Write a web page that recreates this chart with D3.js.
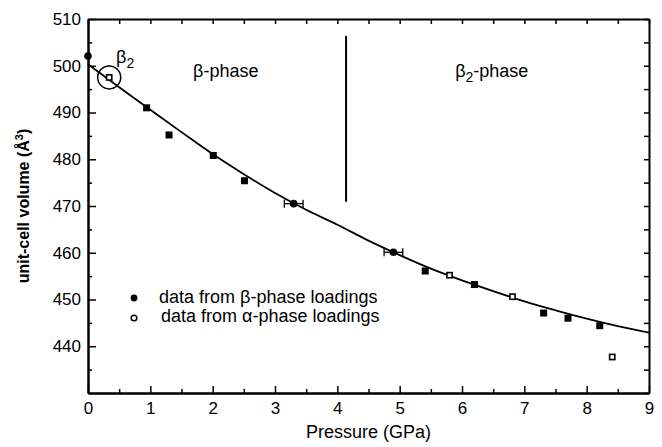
<!DOCTYPE html>
<html>
<head>
<meta charset="utf-8">
<script src="https://cdn.jsdelivr.net/npm/d3@7"></script>
<style>
  body { margin: 0; background: #fff; }
  svg { display: block; font-family: Arial, "Liberation Sans", Helvetica, sans-serif; }
</style>
</head>
<body>
<script>
// data
const sqP = [0.94, 1.30, 2.01, 2.51, 5.41, 6.20, 7.31, 7.70, 8.21];
const sqV = [491.0, 485.2, 480.8, 475.4, 456.1, 453.2, 447.1, 446.0, 444.4];
const dotP = [0, 3.30, 4.90];
const dotV = [502.1, 470.5, 460.1];
const dotErr = [0, 0.15, 0.15];
const openP = [0.34, 5.80, 6.81, 8.41];
const openV = [497.5, 455.2, 450.6, 437.7];
// fitted curve, read every 0.5 GPa
const fitP = [0, 0.5, 1, 1.5, 2, 2.5, 3, 3.5, 4, 4.5, 5, 5.5, 6, 6.5, 7, 7.5, 8, 8.5, 9];
const fitV = [500.3, 495.4, 490.6, 485.8, 481.1, 476.8, 472.8, 469.2, 466.0, 462.6, 459.5, 456.6, 454.1, 451.8, 449.6, 447.7, 445.9, 444.3, 442.9];
const xTicks = [0, 1, 2, 3, 4, 5, 6, 7, 8, 9];
const yTicks = [440, 450, 460, 470, 480, 490, 500, 510];

const width = 662, height = 447;
const margin = { top: 19, right: 13, bottom: 54, left: 88 };

const svg = d3.select('body').append('svg')
    .attr('width', width)
    .attr('height', height);

const x = d3.scaleLinear().domain([0, 9]).range([margin.left, width - margin.right]);
const y = d3.scaleLinear().domain([430, 510]).range([height - margin.bottom, margin.top]);

//坐标轴
function style(g, size) {
    g.attr('font-family', null).attr('font-size', size);
    g.select('.domain').attr('stroke-width', 2);
    g.selectAll('.tick line').attr('stroke-width', 1.5);
}
const minorX = d3.range(0.5, 9, 1);
const minorY = d3.range(435, 510, 10);

svg.append('g')
    .attr('transform', `translate(0,${y(430)})`)
    .call(d3.axisBottom(x).tickValues(xTicks).tickSizeInner(-7).tickSizeOuter(0).tickPadding(9))
    .call(style, 17);
svg.append('g')
    .attr('transform', `translate(0,${y(430)})`)
    .call(d3.axisBottom(x).tickValues(minorX).tickSizeInner(-4).tickSizeOuter(0).tickFormat(''))
    .call(style, 17);
svg.append('g')
    .attr('transform', `translate(${x(0)},0)`)
    .call(d3.axisLeft(y).tickValues(yTicks).tickSizeInner(-8).tickSizeOuter(0).tickPadding(7))
    .call(style, 17);
svg.append('g')
    .attr('transform', `translate(${x(0)},0)`)
    .call(d3.axisLeft(y).tickValues(minorY).tickSizeInner(-4).tickSizeOuter(0).tickFormat(''))
    .call(style, 17);
svg.append('g')
    .attr('transform', `translate(0,${y(510)})`)
    .call(d3.axisTop(x).tickValues(d3.range(0, 9.01, 0.5)).tickSizeInner(-5).tickSizeOuter(0).tickFormat(''))
    .call(style, 17);
svg.append('g')
    .attr('transform', `translate(${x(9)},0)`)
    .call(d3.axisRight(y).tickValues(d3.range(430, 510.1, 5)).tickSizeInner(-5).tickSizeOuter(0).tickFormat(''))
    .call(style, 17);

//轴标题
svg.append('text')
    .attr('x', (x(0) + x(9)) / 2)
    .attr('y', 438)
    .attr('text-anchor', 'middle')
    .attr('font-size', 18)
    .text('Pressure (GPa)');
const yt = svg.append('text')
    .attr('transform', `translate(29,${(y(430) + y(510)) / 2}) rotate(-90)`)
    .attr('text-anchor', 'middle')
    .attr('font-size', 16)
    .attr('font-weight', 'bold');
yt.append('tspan').text('unit-cell volume (Å');
yt.append('tspan').attr('dy', -6).attr('font-size', 11).text('3');
yt.append('tspan').attr('dy', 6).text(')');

//拟合曲线
svg.append('path')
    .datum(fitP.map((p, i) => [p, fitV[i]]))
    .attr('d', d3.line().x(d => x(d[0])).y(d => y(d[1])).curve(d3.curveMonotoneX))
    .attr('fill', 'none')
    .attr('stroke', 'black')
    .attr('stroke-width', 1.8);

//相变分界线
svg.append('line')
    .attr('x1', x(4.14)).attr('x2', x(4.14))
    .attr('y1', y(506.4)).attr('y2', y(470.9))
    .attr('stroke', 'black')
    .attr('stroke-width', 2);

//误差棒
const errs = dotP.map((p, i) => ({ p: p, v: dotV[i], e: dotErr[i] })).filter(d => d.e > 0);
const eb = svg.append('g').attr('stroke', 'black').attr('stroke-width', 1.3);
eb.selectAll('.bar').data(errs).enter().append('line')
    .attr('x1', d => x(d.p - d.e)).attr('x2', d => x(d.p + d.e))
    .attr('y1', d => y(d.v)).attr('y2', d => y(d.v));
eb.selectAll('.capl').data(errs).enter().append('line')
    .attr('x1', d => x(d.p - d.e)).attr('x2', d => x(d.p - d.e))
    .attr('y1', d => y(d.v) - 4).attr('y2', d => y(d.v) + 4);
eb.selectAll('.capr').data(errs).enter().append('line')
    .attr('x1', d => x(d.p + d.e)).attr('x2', d => x(d.p + d.e))
    .attr('y1', d => y(d.v) - 4).attr('y2', d => y(d.v) + 4);

//数据点
svg.append('g').selectAll('rect')
    .data(sqP.map((p, i) => [p, sqV[i]]))
    .enter().append('rect')
    .attr('x', d => x(d[0]) - 3.5)
    .attr('y', d => y(d[1]) - 3.5)
    .attr('width', 7).attr('height', 7)
    .attr('fill', 'black');
svg.append('g').selectAll('circle')
    .data(dotP.map((p, i) => [p, dotV[i]]))
    .enter().append('circle')
    .attr('cx', d => x(d[0]))
    .attr('cy', d => y(d[1]))
    .attr('r', 3.8)
    .attr('fill', 'black');
svg.append('g').selectAll('rect')
    .data(openP.map((p, i) => [p, openV[i]]))
    .enter().append('rect')
    .attr('x', d => x(d[0]) - 2.6)
    .attr('y', d => y(d[1]) - 2.6)
    .attr('width', 5.2).attr('height', 5.2)
    .attr('fill', 'white')
    .attr('stroke', 'black')
    .attr('stroke-width', 1.6);

//β2 标记圈
svg.append('circle')
    .attr('cx', x(openP[0]))
    .attr('cy', y(openV[0]))
    .attr('r', 11.5)
    .attr('fill', 'none')
    .attr('stroke', 'black')
    .attr('stroke-width', 1.5);

//注释文字
function beta2(t, suffix) {
    t.append('tspan').text('β');
    t.append('tspan').attr('dy', 5).attr('font-size', 14).text('2');
    if (suffix) t.append('tspan').attr('dy', -5).text(suffix);
}
svg.append('text').attr('x', x(0.45)).attr('y', y(500.6)).attr('font-size', 18).call(beta2, '');
svg.append('text').attr('x', x(1.685)).attr('y', y(497.6)).attr('font-size', 18).text('β-phase');
svg.append('text').attr('x', x(5.89)).attr('y', y(497.6)).attr('font-size', 18).call(beta2, '-phase');

//图例
const legend = svg.append('g').attr('transform', 'translate(134,298)');
legend.append('circle').attr('r', 3.4).attr('fill', 'black');
legend.append('circle').attr('cy', 20).attr('r', 2.8)
    .attr('fill', 'white').attr('stroke', 'black').attr('stroke-width', 1.5);
legend.append('text').attr('x', 25).attr('y', 5).attr('font-size', 18).text('data from β-phase loadings');
legend.append('text').attr('x', 27).attr('y', 24).attr('font-size', 18).text('data from α-phase loadings');
</script>
</body>
</html>
